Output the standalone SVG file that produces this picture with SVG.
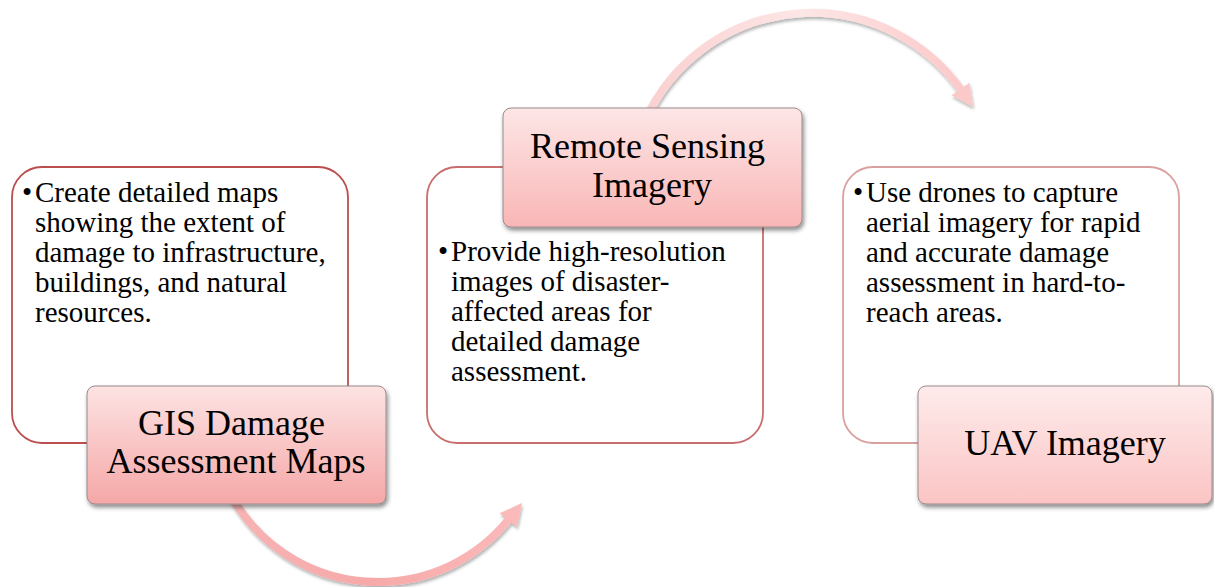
<svg xmlns="http://www.w3.org/2000/svg" width="1214" height="587" viewBox="0 0 1214 587">
  <defs>
    <style>
      .body { font-family: "Liberation Serif", "Times New Roman", serif; font-size: 29px; fill: #000; }
      .title { font-family: "Liberation Serif", "Times New Roman", serif; font-size: 36px; fill: #000; text-anchor: middle; }
      .tbox { fill: #ffffff; stroke-width: 1.8; }
      .lbox { stroke: #9a8a8a; stroke-width: 1; filter: url(#shadow); }
    </style>
    <filter id="shadow" x="-10%" y="-10%" width="125%" height="130%">
      <feDropShadow dx="1.5" dy="3" stdDeviation="2" flood-color="#000" flood-opacity="0.45"/>
    </filter>
    <filter id="ashadow" x="-10%" y="-10%" width="125%" height="130%">
      <feDropShadow dx="1" dy="2.5" stdDeviation="1.8" flood-color="#000" flood-opacity="0.3"/>
    </filter>
    <linearGradient id="g1" x1="0" y1="0" x2="0" y2="1">
      <stop offset="0" stop-color="#fde3e3"/>
      <stop offset="1" stop-color="#f5a7a7"/>
    </linearGradient>
    <linearGradient id="g2" x1="0" y1="0" x2="0" y2="1">
      <stop offset="0" stop-color="#fde6e6"/>
      <stop offset="1" stop-color="#f9b6b6"/>
    </linearGradient>
    <linearGradient id="g3" x1="0" y1="0" x2="0" y2="1">
      <stop offset="0" stop-color="#feebeb"/>
      <stop offset="1" stop-color="#fbc4c4"/>
    </linearGradient>
    <linearGradient id="a1" gradientUnits="userSpaceOnUse" x1="237" y1="505" x2="515" y2="520">
      <stop offset="0" stop-color="#f7b3b3"/>
      <stop offset="0.5" stop-color="#f7a9a9"/>
      <stop offset="1" stop-color="#fbb9b9"/>
    </linearGradient>
    <linearGradient id="a2" gradientUnits="userSpaceOnUse" x1="650" y1="110" x2="965" y2="90">
      <stop offset="0" stop-color="#fbd0d0"/>
      <stop offset="0.5" stop-color="#fde6e6"/>
      <stop offset="1" stop-color="#fcc9c9"/>
    </linearGradient>
    <marker id="head1" markerUnits="userSpaceOnUse" markerWidth="24" markerHeight="24" refX="2" refY="12" orient="auto" viewBox="0 0 24 24">
      <path d="M0,1 L22,12 L0,23 Z" fill="#fbb9b9"/>
    </marker>
    <marker id="head2" markerUnits="userSpaceOnUse" markerWidth="24" markerHeight="24" refX="2" refY="12" orient="auto" viewBox="0 0 24 24">
      <path d="M0,1 L22,12 L0,23 Z" fill="#fcc9c9"/>
    </marker>
  </defs>

  <g id="connectors" fill="none" stroke-width="8" filter="url(#ashadow)">
    <path d="M 232.5 498 A 168 168 0 0 0 509.5 518.6" stroke="url(#a1)" marker-end="url(#head1)"/>
    <path d="M 646 118.7 A 183 183 0 0 1 961.5 90.5" stroke="url(#a2)" marker-end="url(#head2)"/>
  </g>

  <g id="node-gis">
    <rect class="tbox" x="12" y="167" width="336" height="276" rx="30" stroke="#bb4e4e"/>
    <text class="body">
      <tspan x="22" y="202">•</tspan><tspan x="35" y="202">Create detailed maps</tspan>
      <tspan x="35" y="232">showing the extent of</tspan>
      <tspan x="35" y="262">damage to infrastructure,</tspan>
      <tspan x="35" y="292">buildings, and natural</tspan>
      <tspan x="35" y="322">resources.</tspan>
    </text>
    <rect class="lbox" x="87" y="386" width="299" height="118" rx="8" fill="url(#g1)"/>
    <text class="title">
      <tspan x="236" y="435">GIS Damage</tspan>
      <tspan x="236" y="473">Assessment Maps</tspan>
    </text>
  </g>

  <g id="node-rs">
    <rect class="tbox" x="427" y="167" width="336" height="276" rx="30" stroke="#c86e6e"/>
    <text class="body">
      <tspan x="438" y="261">•</tspan><tspan x="451" y="261">Provide high-resolution</tspan>
      <tspan x="451" y="291">images of disaster-</tspan>
      <tspan x="451" y="321">affected areas for</tspan>
      <tspan x="451" y="351">detailed damage</tspan>
      <tspan x="451" y="381">assessment.</tspan>
    </text>
    <rect class="lbox" x="503" y="108" width="299" height="119" rx="8" fill="url(#g2)"/>
    <text class="title">
      <tspan x="652" y="158">Remote Sensing</tspan>
      <tspan x="652" y="197">Imagery</tspan>
    </text>
  </g>

  <g id="node-uav">
    <rect class="tbox" x="843" y="167" width="336" height="276" rx="30" stroke="#d9a0a0"/>
    <text class="body">
      <tspan x="853" y="202">•</tspan><tspan x="866" y="202">Use drones to capture</tspan>
      <tspan x="866" y="232">aerial imagery for rapid</tspan>
      <tspan x="866" y="262">and accurate damage</tspan>
      <tspan x="866" y="292">assessment in hard-to-</tspan>
      <tspan x="866" y="322">reach areas.</tspan>
    </text>
    <rect class="lbox" x="918" y="386" width="294" height="118" rx="8" fill="url(#g3)"/>
    <text class="title">
      <tspan x="1065" y="455">UAV Imagery</tspan>
    </text>
  </g>
</svg>
